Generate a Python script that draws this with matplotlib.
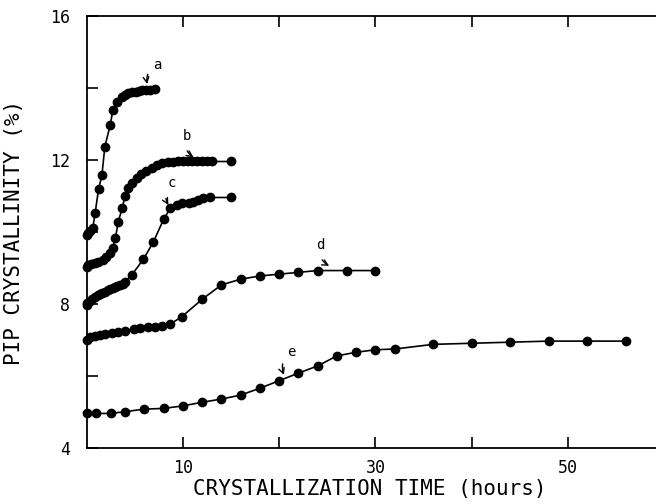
import matplotlib
matplotlib.use('Agg')
import matplotlib.pyplot as plt

# crystallization time (hours) and PIP crystallinity (%) for curves a-e
a_t = [0, 0.15, 0.35, 0.65, 0.9, 1.25, 1.6, 1.9, 2.45, 2.75, 3.15, 3.65, 4.0, 4.35, 4.7, 5.1, 5.45, 5.8, 6.2, 6.6, 7.1]
a_v = [9.92, 9.97, 10.03, 10.11, 10.54, 11.19, 11.58, 12.37, 12.96, 13.40, 13.61, 13.75, 13.81, 13.85, 13.88, 13.90, 13.92, 13.94, 13.95, 13.96, 13.97]

b_t = [0, 0.2, 0.5, 0.9, 1.2, 1.7, 2.0, 2.4, 2.7, 3.0, 3.3, 3.7, 4.0, 4.3, 4.7, 5.2, 5.7, 6.2, 6.8, 7.3, 7.8,
       8.5, 9.0, 9.5, 10.0, 10.5, 11.0, 11.5, 12.0, 12.5, 13.0, 15.0]
b_v = [9.04, 9.08, 9.11, 9.15, 9.17, 9.22, 9.30, 9.42, 9.55, 9.83, 10.29, 10.66, 11.0, 11.21, 11.35, 11.49, 11.61, 11.70, 11.79, 11.86, 11.91,
       11.94, 11.95, 11.96, 11.96, 11.96, 11.96, 11.96, 11.96, 11.96, 11.96, 11.96]

c_t = [0, 0.1, 0.35, 0.6, 0.9, 1.15, 1.4, 1.65, 1.9, 2.2, 2.45, 2.7, 2.95, 3.2, 3.5, 3.75, 4.0, 4.7, 5.9, 6.95, 8.0, 8.7,
       9.4, 9.9, 10.6, 11.1, 11.6, 12.1, 12.8, 15.0]
c_v = [7.97, 8.03, 8.09, 8.15, 8.20, 8.24, 8.28, 8.31, 8.34, 8.38, 8.41, 8.44, 8.46, 8.49, 8.53, 8.57, 8.62, 8.81, 9.24, 9.73, 10.35, 10.66,
       10.75, 10.80, 10.81, 10.84, 10.89, 10.94, 10.96, 10.96]

d_t = [0, 0.35, 0.9, 1.4, 1.9, 2.6, 3.3, 4.0, 4.9, 5.6, 6.4, 7.1, 7.8, 8.7, 9.9, 12.0, 14.0, 16.0, 18.0, 20.0, 22.0, 24.0, 27.0, 30.0]
d_v = [7.0, 7.08, 7.11, 7.14, 7.17, 7.19, 7.23, 7.26, 7.30, 7.33, 7.35, 7.37, 7.39, 7.44, 7.65, 8.13, 8.53, 8.69, 8.78, 8.83, 8.88, 8.93, 8.93, 8.93]

e_t = [0, 1, 2.5, 4, 6, 8, 10, 12, 14, 16, 18, 20, 22, 24, 26, 28, 30, 32, 36, 40, 44, 48, 52, 56]
e_v = [4.96, 4.96, 4.96, 5.01, 5.08, 5.10, 5.17, 5.27, 5.36, 5.47, 5.66, 5.87, 6.08, 6.28, 6.56, 6.66, 6.73, 6.75, 6.88, 6.91, 6.94, 6.97, 6.97, 6.97]

# curve labels: (text, label position, arrow tip)
labels = [('a', (7.4, 14.64), (6.3, 14.11)),
          ('b', (10.4, 12.67), (11.1, 12.08)),
          ('c', (8.9, 11.36), (8.5, 10.75)),
          ('d', (24.3, 9.64), (25.2, 9.06)),
          ('e', (21.3, 6.67), (20.5, 6.03))]

plt.rcParams['font.family'] = ['DejaVu Sans Mono']

fig = plt.figure(figsize=(6.56, 5.04), dpi=100)
ax = fig.add_axes([0.1319, 0.1111, 0.8808, 0.857])

for t, v in [(a_t, a_v), (b_t, b_v), (c_t, c_v), (d_t, d_v), (e_t, e_v)]:
    ax.plot(t, v, color='black', linewidth=1.2, marker='o', markersize=6,
            markerfacecolor='black', markeredgecolor='black', clip_on=False)

for txt, pos, tip in labels:
    ax.annotate(txt, xy=tip, xytext=pos, fontsize=10, ha='center', va='center',
                arrowprops=dict(arrowstyle='->', color='black', lw=1,
                                connectionstyle='arc3,rad=0.4', shrinkA=4, shrinkB=0))

ax.set_xlim(0, 60)
ax.set_ylim(4, 16)
ax.set_xticks([10, 20, 30, 40, 50, 60])
ax.set_xticklabels(['10', '', '30', '', '50', ''])
ax.set_yticks([4, 6, 8, 10, 12, 14, 16])
ax.set_yticklabels(['4', '', '8', '', '12', '', '16'])
ax.tick_params(direction='in', length=8, width=1.2, top=True, right=False,
               labelsize=12, pad=8)
ax.tick_params(axis='y', pad=12)
for s in ax.spines.values():
    s.set_linewidth(1.3)

ax.set_xlabel('CRYSTALLIZATION TIME (hours)', fontsize=15)
ax.xaxis.set_label_coords(0.49, -0.072)
ax.set_ylabel('PIP CRYSTALLINITY (%)', fontsize=15)
ax.yaxis.set_label_coords(-0.108, 0.5)

fig.savefig('out.png', dpi=100)
